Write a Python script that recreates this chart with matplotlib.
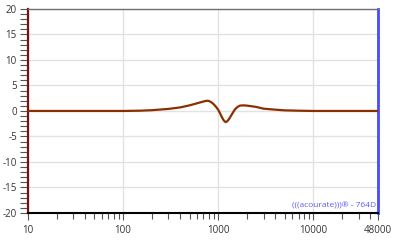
import numpy as np
import matplotlib.pyplot as plt
from matplotlib.ticker import FixedLocator, NullFormatter, MultipleLocator

plt.rcParams["axes.unicode_minus"] = False
plt.rcParams["font.family"] = ["Open Sans", "DejaVu Sans"]

# réponse en fréquence
freq = [10, 100, 150, 200, 300, 400, 500, 600, 700, 760, 800, 850, 900, 950,
        1000, 1050, 1100, 1150, 1200, 1250, 1300, 1400, 1500, 1600, 1700,
        1850, 2000, 2500, 3000, 4000, 5000, 7000, 10000, 48000]
gain_db = [0, 0, 0.05, 0.15, 0.4, 0.7, 1.1, 1.5, 1.85, 2.0, 1.95, 1.7, 1.3, 0.8,
           0.25, -0.5, -1.3, -1.9, -2.2, -2.0, -1.6, -0.6, 0.3, 0.8, 1.05,
           1.1, 1.05, 0.8, 0.45, 0.25, 0.12, 0.05, 0, 0]

xticks = [10, 100, 1000, 10000, 48000]
xlabels = ["10", "100", "1000", "10000", "48000"]
yticks = [20, 15, 10, 5, 0, -5, -10, -15, -20]

fig = plt.figure(figsize=(4, 2.42), dpi=100)
ax = fig.add_axes([0.07, 0.12, 0.875, 0.843])

ax.semilogx(freq, gain_db, color="#8a3000", lw=1.6, zorder=3)

ax.set_xlim(10, 48000)
ax.set_ylim(-20, 20)

ax.xaxis.set_major_locator(FixedLocator(xticks))
ax.set_xticklabels(xlabels)
minor_x = [m * 10**e for e in range(1, 5) for m in range(2, 10) if m * 10**e < 48000]
ax.xaxis.set_minor_locator(FixedLocator(minor_x))
ax.xaxis.set_minor_formatter(NullFormatter())
ax.set_yticks(yticks)
ax.yaxis.set_minor_locator(MultipleLocator(1))

ax.grid(True, which="major", color="#e2e2e2", lw=1)
ax.tick_params(axis="both", which="both", colors="#555555", labelcolor="#333333",
               labelsize=7, direction="out")
ax.tick_params(axis="y", which="both", length=6, width=0.8, pad=2)
ax.tick_params(axis="x", which="major", length=5, width=0.8, pad=4)
ax.tick_params(axis="x", which="minor", length=4, width=0.8)

ax.spines["left"].set_color("#7a1010")
ax.spines["left"].set_linewidth(1.6)
ax.spines["right"].set_color("#4a4aff")
ax.spines["right"].set_linewidth(2)
ax.spines["top"].set_color("#707070")
ax.spines["top"].set_linewidth(1)
ax.spines["bottom"].set_color("black")
ax.spines["bottom"].set_linewidth(1.5)

ax.text(0.995, 0.015, "(((acourate)))® - 764D", transform=ax.transAxes,
        ha="right", va="bottom", fontsize=6, color="#5a5aff")

fig.savefig("out.png", dpi=100)
